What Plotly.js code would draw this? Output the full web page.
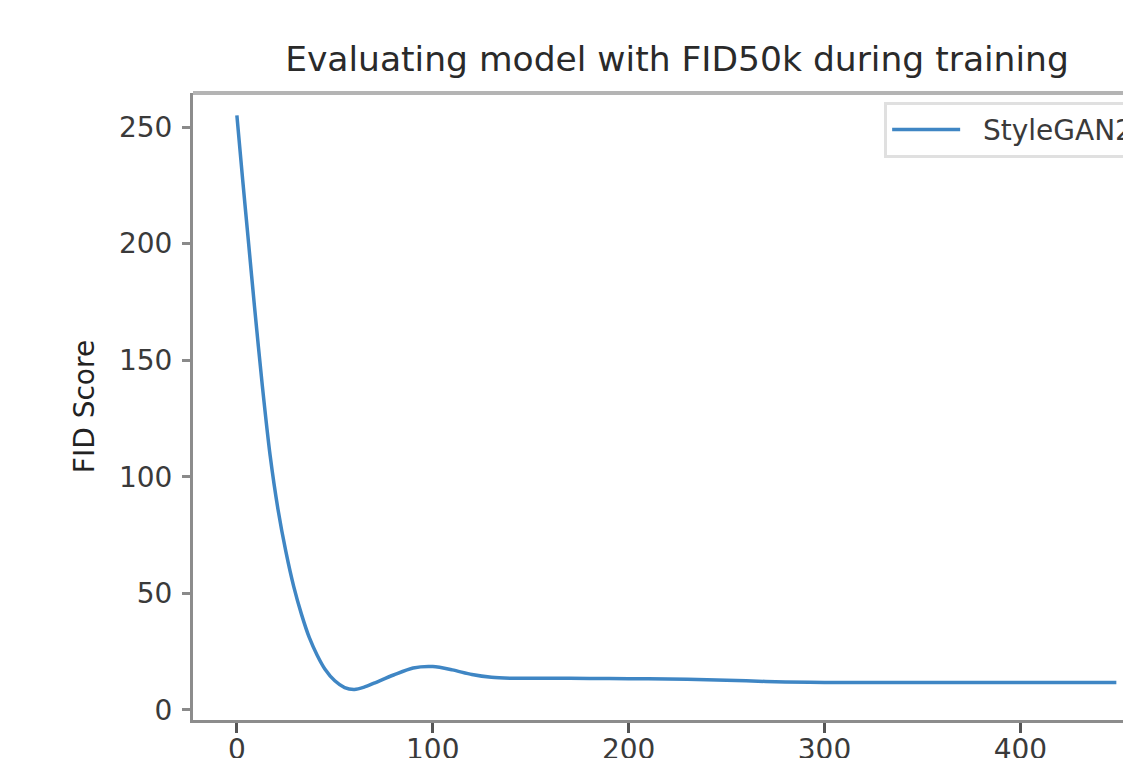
<!DOCTYPE html>
<html>
<head>
<meta charset="utf-8">
<script src="https://cdn.plot.ly/plotly-3.0.1.min.js"></script>
<style>
  html, body { margin: 0; padding: 0; width: 1123px; height: 758px; overflow: hidden; background: #fff; }
  #chart { width: 1200px; height: 800px; }
</style>
</head>
<body>
<div id="chart"></div>
<script>
// Data (epoch vs FID50k)
const epochs = [0, 3, 6, 9, 13, 17, 21, 25, 29, 33, 37, 41, 45, 50, 55, 60, 65, 70, 80, 90, 100, 110, 120, 130, 140, 160, 180, 200, 220, 240, 260, 280, 300, 350, 400, 449];
const fidScores = [255, 227, 200, 173, 139, 109, 86, 68, 53, 41, 31, 23.5, 17.5, 12.5, 9.6, 8.8, 9.8, 11.5, 15, 18, 18.6, 17.2, 15.2, 14, 13.6, 13.6, 13.5, 13.4, 13.3, 13.0, 12.5, 12.0, 11.8, 11.8, 11.8, 11.8];
const seriesName = 'StyleGAN2';
const xTicks = [0, 100, 200, 300, 400];
const yTicks = [0, 50, 100, 150, 200, 250];

const trace = {
  x: epochs,
  y: fidScores,
  type: 'scatter',
  mode: 'lines',
  name: '\u00a0\u00a0' + seriesName,
  line: { color: '#3f86c4', width: 3.5, shape: 'spline', smoothing: 0.8 }
};

const tickFont = { family: 'DejaVu Sans', size: 28, color: '#3a3a3a' };

const layout = {
  width: 1200,
  height: 800,
  margin: { l: 193, r: 39, t: 93, b: 80 },
  paper_bgcolor: '#ffffff',
  plot_bgcolor: '#ffffff',
  showlegend: true,
  title: {
    text: 'Evaluating model with FID50k during training',
    font: { family: 'DejaVu Sans', size: 34.5, color: '#2a2a2a' },
    x: 0.5, xref: 'paper', xanchor: 'center',
    y: 1, yref: 'paper', yanchor: 'bottom',
    pad: { b: 22 }
  },
  xaxis: {
    range: [-22.4, 471.8],
    tickmode: 'array',
    tickvals: xTicks,
    ticktext: xTicks.map(String),
    ticks: 'outside', ticklen: 10, tickwidth: 3, tickcolor: '#555555',
    tickfont: tickFont,
    ticklabelstandoff: -8,
    showgrid: false, zeroline: false,
    showline: true, linecolor: '#8c8c8c', linewidth: 3,
    mirror: false
  },
  yaxis: {
    range: [-4.3, 264.6],
    tickmode: 'array',
    tickvals: yTicks,
    ticktext: yTicks.map(String),
    ticks: 'outside', ticklen: 8, tickwidth: 3, tickcolor: '#8a8a8a',
    tickfont: tickFont,
    ticklabelstandoff: 4,
    showgrid: false, zeroline: false,
    showline: true, linecolor: '#8c8c8c', linewidth: 3,
    title: { text: 'FID Score', font: { family: 'DejaVu Sans', size: 28, color: '#222222' }, standoff: 17 }
  },
  legend: {
    x: 0.714, y: 0.986, xanchor: 'left', yanchor: 'top',
    bgcolor: '#ffffff', bordercolor: '#e0e0e0', borderwidth: 3,
    font: { family: 'DejaVu Sans', size: 28, color: '#3a3a3a' },
    itemwidth: 68
  },
  shapes: [
    { type: 'line', xref: 'paper', yref: 'paper', x0: 0, x1: 1, y0: 1, y1: 1,
      line: { color: '#b4b4b4', width: 4 } }
  ]
};

Plotly.newPlot('chart', [trace], layout, { displayModeBar: false, staticPlot: true });
</script>
</body>
</html>
